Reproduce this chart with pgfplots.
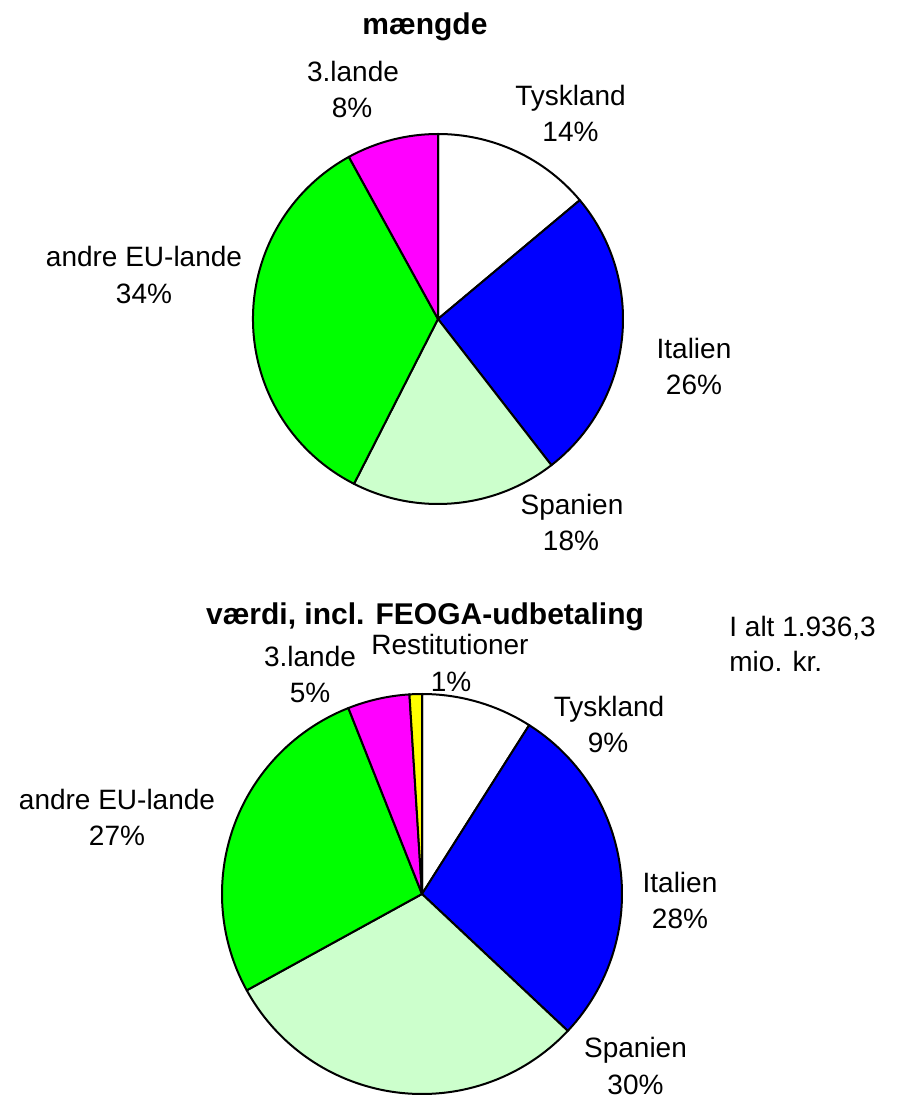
\documentclass[border=0pt]{standalone}
\usepackage{fontspec}
\setmainfont{Liberation Sans}
\usepackage{pgfplots}
\usepackage{pgfplotstable}
\pgfplotsset{compat=1.18}
\definecolor{pieWhite}{RGB}{255,255,255}
\definecolor{pieBlue}{RGB}{0,0,255}
\definecolor{pieLight}{RGB}{204,255,204}
\definecolor{pieGreen}{RGB}{0,255,0}
\definecolor{pieMagenta}{RGB}{255,0,255}
\definecolor{pieYellow}{RGB}{255,255,0}

\tikzset{
  lbl/.style={inner sep=0pt, anchor=base, font=\fontsize{14}{17}\selectfont},
  ttl/.style={inner sep=0pt, anchor=base, font=\bfseries\fontsize{15}{18}\selectfont},
}

% mængde (shares, per cent)
\pgfplotstableread[col sep=comma]{
label,value,color
Tyskland,13.9,pieWhite
Italien,25.6,pieBlue
Spanien,18.0,pieLight
andre EU-lande,34.5,pieGreen
3.lande,8.0,pieMagenta
}\maengde

% værdi, incl. FEOGA-udbetaling (shares, per cent)
\pgfplotstableread[col sep=comma]{
label,value,color
Tyskland,9.0,pieWhite
Italien,28.0,pieBlue
Spanien,30.0,pieLight
andre EU-lande,27.0,pieGreen
3.lande,5.0,pieMagenta
Restitutioner,1.0,pieYellow
}\vaerdi

% #1 table, #2 cx, #3 cy, #4 radius (axis units, 1 unit = 0.5pt)
\newcommand\drawpie[4]{%
  \pgfplotstablegetrowsof{#1}%
  \pgfmathtruncatemacro\nrows{\pgfplotsretval-1}%
  \pgfmathsetmacro\cum{0}%
  \pgfmathsetmacro\rr{#4*0.5}%
  \pgfplotsforeachungrouped \i in {0,...,\nrows}{%
    \pgfplotstablegetelem{\i}{value}\of{#1}\let\val\pgfplotsretval
    \pgfplotstablegetelem{\i}{color}\of{#1}\let\col\pgfplotsretval
    \pgfmathsetmacro\a{90-3.6*\cum}%
    \pgfmathsetmacro\b{90-3.6*(\cum+\val)}%
    \pgfmathsetmacro\xa{#2+#4*cos(\a)}%
    \pgfmathsetmacro\ya{#3+#4*sin(\a)}%
    \edef\temp{\noexpand\filldraw[fill=\col, draw=black, line width=1pt, line join=round]
      (axis cs:#2,#3) -- (axis cs:\xa,\ya)
      arc[start angle=\a, end angle=\b, radius=\rr pt] -- cycle;}%
    \temp
    \pgfmathsetmacro\cum{\cum+\val}%
  }%
}

\begin{document}
\begin{tikzpicture}
\begin{axis}[
  x=0.5pt, y=0.5pt,
  xmin=0, xmax=898, ymin=0, ymax=1099,
  hide axis, clip=false,
]
\drawpie{\maengde}{438}{780}{185}
\drawpie{\vaerdi}{422}{205}{200}

% titles
\node[ttl] at (axis cs:425,1064) {mængde};
\node[ttl] at (axis cs:425,474) {værdi, incl. FEOGA-udbetaling};

% pie 1 labels
\node[lbl] at (axis cs:353,1017) {3.lande};
\node[lbl] at (axis cs:352,981) {8\%};
\node[lbl] at (axis cs:570.5,993) {Tyskland};
\node[lbl] at (axis cs:570.5,957) {14\%};
\node[lbl] at (axis cs:144,832) {andre EU-lande};
\node[lbl] at (axis cs:144,795) {34\%};
\node[lbl] at (axis cs:694,740) {Italien};
\node[lbl] at (axis cs:694,704) {26\%};
\node[lbl] at (axis cs:572,584) {Spanien};
\node[lbl] at (axis cs:571,548) {18\%};

% pie 2 labels
\node[lbl] at (axis cs:450,444) {Restitutioner};
\node[lbl] at (axis cs:451,407) {1\%};
\node[lbl] at (axis cs:310,432) {3.lande};
\node[lbl] at (axis cs:310,396) {5\%};
\node[lbl] at (axis cs:609,382) {Tyskland};
\node[lbl] at (axis cs:608,346) {9\%};
\node[lbl] at (axis cs:117,289) {andre EU-lande};
\node[lbl] at (axis cs:117,253) {27\%};
\node[lbl] at (axis cs:680,206) {Italien};
\node[lbl] at (axis cs:680,170) {28\%};
\node[lbl] at (axis cs:635.5,41) {Spanien};
\node[lbl] at (axis cs:635.5,4) {30\%};

% total
\node[lbl, anchor=base west] at (axis cs:729,462) {I alt 1.936,3};
\node[lbl, anchor=base west] at (axis cs:729,427) {mio. kr.};
\end{axis}
\pgfresetboundingbox
\useasboundingbox (current axis.south west) rectangle (current axis.north east);
\end{tikzpicture}
\end{document}
